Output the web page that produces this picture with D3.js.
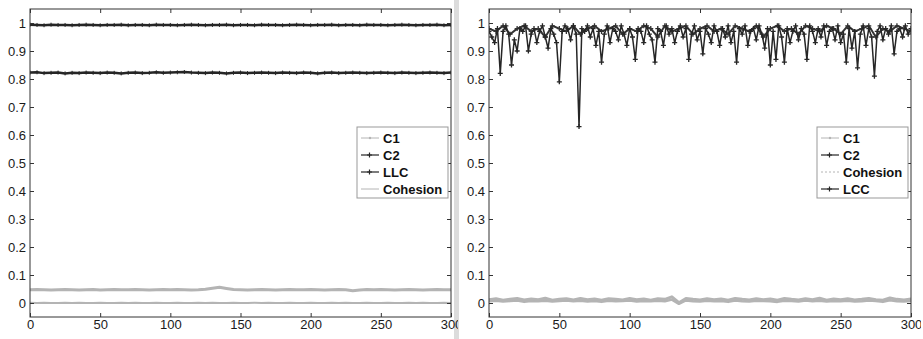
<!DOCTYPE html>
<html>
<head>
<meta charset="utf-8">
<script src="https://cdn.jsdelivr.net/npm/d3@7"></script>
<style>
  body { margin: 0; background: #fff; }
  svg { display: block; font-family: "Liberation Sans", Arial, sans-serif; }
</style>
</head>
<body>
<svg id="chart" width="923" height="339"></svg>
<script>
// x ticks / y ticks shared by both panels
const xTicks = [0, 50, 100, 150, 200, 250, 300];
const yTicks = [0, 0.1, 0.2, 0.3, 0.4, 0.5, 0.6, 0.7, 0.8, 0.9, 1];

// left panel, sampled every 5 steps
const leftLLC = [0.994,0.993,0.992,0.994,0.993,0.993,0.992,0.993,0.994,0.993,
  0.992,0.993,0.993,0.994,0.992,0.993,0.993,0.992,0.994,0.993,
  0.993,0.992,0.993,0.994,0.993,0.992,0.993,0.993,0.994,0.992,
  0.993,0.993,0.992,0.994,0.993,0.993,0.992,0.993,0.994,0.993,
  0.992,0.993,0.993,0.994,0.992,0.993,0.993,0.992,0.994,0.993,
  0.993,0.992,0.993,0.994,0.993,0.992,0.993,0.993,0.994,0.992,
  0.993];
const leftC2 = [0.823,0.824,0.821,0.822,0.823,0.820,0.822,0.821,0.823,0.822,
  0.821,0.823,0.822,0.820,0.822,0.823,0.821,0.822,0.824,0.822,
  0.823,0.824,0.825,0.823,0.822,0.821,0.823,0.822,0.820,0.822,
  0.823,0.821,0.822,0.823,0.822,0.821,0.823,0.822,0.821,0.823,
  0.822,0.820,0.822,0.823,0.821,0.822,0.823,0.822,0.821,0.822,
  0.823,0.822,0.821,0.823,0.822,0.821,0.822,0.823,0.822,0.821,
  0.823];
const leftC1 = [0.047,0.048,0.047,0.046,0.047,0.048,0.047,0.046,0.047,0.048,
  0.046,0.047,0.048,0.047,0.047,0.048,0.047,0.046,0.047,0.048,
  0.047,0.048,0.047,0.046,0.047,0.049,0.053,0.056,0.052,0.048,
  0.047,0.046,0.047,0.048,0.047,0.046,0.047,0.048,0.047,0.047,
  0.048,0.047,0.046,0.047,0.048,0.047,0.044,0.046,0.048,0.047,
  0.048,0.047,0.046,0.047,0.048,0.047,0.046,0.047,0.048,0.047,
  0.047];
const leftCohesion = [0.001,0.000,0.001,0.000,0.000,0.001,0.000,0.001,0.000,0.000,
  0.001,0.000,0.000,0.001,0.000,0.001,0.000,0.000,0.001,0.000,
  0.000,0.001,0.000,0.000,0.001,0.000,0.001,0.000,0.000,0.001,
  0.000,0.000,0.001,0.000,0.001,0.000,0.000,0.001,0.000,0.000,
  0.001,0.000,0.000,0.001,0.000,0.001,0.000,0.000,0.001,0.000,
  0.000,0.001,0.000,0.000,0.001,0.000,0.001,0.000,0.000,0.001,
  0.000];

// right panel
const rightC1 = [0.012,0.015,0.010,0.013,0.016,0.011,0.014,0.012,0.017,0.010,
  0.013,0.015,0.011,0.016,0.012,0.014,0.010,0.015,0.013,0.011,
  0.016,0.012,0.014,0.010,0.015,0.013,0.022,0.001,0.016,0.013,
  0.011,0.015,0.012,0.014,0.010,0.016,0.013,0.011,0.015,0.012,
  0.014,0.010,0.016,0.013,0.011,0.015,0.012,0.017,0.010,0.014,
  0.012,0.015,0.011,0.013,0.016,0.012,0.010,0.018,0.013,0.011,
  0.014];
const rightCohesion = [0.006,0.008,0.005,0.007,0.009,0.004,0.007,0.006,0.008,0.005,
  0.007,0.009,0.006,0.008,0.005,0.007,0.004,0.008,0.006,0.007,
  0.009,0.005,0.007,0.006,0.008,0.006,0.012,-0.003,0.009,0.006,
  0.005,0.008,0.006,0.007,0.004,0.009,0.006,0.005,0.008,0.007,
  0.006,0.004,0.008,0.007,0.005,0.009,0.006,0.008,0.005,0.007,
  0.006,0.008,0.005,0.006,0.009,0.007,0.004,0.010,0.006,0.005,
  0.007];
const rightC2 = [0.98,0.97,0.99,0.96,0.98,0.99,0.97,0.98,0.95,0.99,
  0.98,0.97,0.99,0.96,0.98,0.99,0.97,0.98,0.99,0.96,
  0.98,0.97,0.99,0.98,0.95,0.99,0.97,0.98,0.99,0.96,
  0.98,0.99,0.97,0.98,0.96,0.99,0.98,0.97,0.99,0.95,
  0.98,0.99,0.97,0.98,0.96,0.99,0.98,0.97,0.99,0.98,
  0.96,0.99,0.97,0.98,0.99,0.95,0.98,0.97,0.99,0.98,
  0.97];
// sampled every 2 steps
const rightLCC = [0.97,0.95,0.93,0.98,0.82,0.97,0.99,0.96,0.85,0.94,
  0.90,0.98,0.97,0.99,0.90,0.96,0.98,0.93,0.97,0.99,
  0.95,0.91,0.98,0.96,0.93,0.79,0.97,0.99,0.98,0.94,
  0.99,0.96,0.63,0.98,0.97,0.99,0.95,0.98,0.92,0.97,
  0.86,0.96,0.99,0.93,0.98,0.97,0.94,0.99,0.96,0.92,
  0.98,0.95,0.87,0.98,0.97,0.93,0.99,0.96,0.94,0.86,
  0.98,0.97,0.92,0.99,0.96,0.98,0.93,0.97,0.99,0.95,
  0.98,0.87,0.96,0.99,0.94,0.97,0.89,0.98,0.96,0.93,
  0.99,0.97,0.92,0.98,0.95,0.99,0.93,0.97,0.86,0.98,
  0.96,0.99,0.92,0.97,0.98,0.94,0.99,0.96,0.91,0.98,
  0.85,0.97,0.87,0.99,0.95,0.86,0.98,0.93,0.97,0.99,
  0.94,0.98,0.96,0.87,0.99,0.97,0.93,0.98,0.95,0.99,
  0.92,0.97,0.98,0.94,0.99,0.93,0.96,0.86,0.98,0.91,
  0.97,0.84,0.96,0.99,0.92,0.98,0.95,0.81,0.97,0.99,
  0.94,0.98,0.96,0.99,0.89,0.97,0.98,0.95,0.99,0.96,
  0.98];

const dark = '#262626';
const light = '#b4b4b4';

const svg = d3.select('#chart');

function drawPanel(p) {
  const x = d3.scaleLinear().domain([0, 300]).range([p.left, p.right]);
  const y = d3.scaleLinear().domain([-0.05, 1.05]).range([317, 9]);

  svg.append('clipPath').attr('id', 'clip' + p.id)
    .append('rect').attr('x', p.left - 40).attr('y', 0)
    .attr('width', p.clipRight - p.left + 40).attr('height', 339);
  const g = svg.append('g').attr('clip-path', `url(#clip${p.id})`);

  // series
  const plotClip = 'plot' + p.id;
  svg.append('clipPath').attr('id', plotClip)
    .append('rect').attr('x', p.left).attr('y', 9)
    .attr('width', p.right - p.left).attr('height', 308);
  const plot = g.append('g').attr('clip-path', `url(#${plotClip})`);

  p.series.forEach(s => {
    const step = 300 / (s.values.length - 1);
    const pts = s.values.map((v, i) => [i * step, v]);
    const line = d3.line().x(d => x(d[0])).y(d => y(d[1]));
    plot.append('path')
      .attr('d', line(pts))
      .attr('fill', 'none')
      .attr('stroke', s.color)
      .attr('stroke-width', s.width)
      .attr('stroke-linejoin', 'round');
    if (s.marker === '+') {
      const m = s.msize || 2;
      plot.selectAll(null).data(pts).enter().append('path')
        .attr('d', d => `M${x(d[0]) - m},${y(d[1])}h${2 * m}M${x(d[0])},${y(d[1]) - m}v${2 * m}`)
        .attr('stroke', s.color).attr('stroke-width', s.mwidth || 1);
    }
  });

  // box
  g.append('rect')
    .attr('x', p.left).attr('y', 9)
    .attr('width', p.right - p.left).attr('height', 308)
    .attr('fill', 'none').attr('stroke', '#333').attr('stroke-width', 1);

  const style = sel => {
    sel.select('.domain').remove();
    sel.selectAll('line').attr('stroke', '#333');
    sel.selectAll('text').attr('fill', '#1a1a1a').style('font-size', '13px');
  };

  g.append('g').attr('transform', `translate(${p.left},0)`)
    .call(d3.axisLeft(y).tickValues(yTicks).tickFormat(d3.format('~g'))
      .tickSizeInner(-4).tickSizeOuter(0).tickPadding(4))
    .call(style);
  g.append('g').attr('transform', `translate(${p.right},0)`)
    .call(d3.axisRight(y).tickValues(yTicks).tickFormat('')
      .tickSizeInner(-4).tickSizeOuter(0))
    .call(style);
  g.append('g').attr('transform', `translate(0,317)`)
    .call(d3.axisBottom(x).tickValues(xTicks).tickFormat(d3.format('d'))
      .tickSizeInner(-4).tickSizeOuter(0).tickPadding(3))
    .call(style);
  g.append('g').attr('transform', `translate(0,9)`)
    .call(d3.axisTop(x).tickValues(xTicks).tickFormat('')
      .tickSizeInner(-4).tickSizeOuter(0))
    .call(style);

  // legend
  const lg = g.append('g').attr('transform', `translate(${p.legendX},127)`);
  lg.append('rect').attr('width', 91).attr('height', 71)
    .attr('fill', '#fff').attr('stroke', '#999');
  p.legend.forEach((s, i) => {
    const ly = 11 + i * 17;
    lg.append('line').attr('x1', 4).attr('x2', 22).attr('y1', ly).attr('y2', ly)
      .attr('stroke', s.color).attr('stroke-width', s.color === dark ? 1.2 : 1)
      .attr('stroke-dasharray', s.dash || null);
    if (s.marker === '+') {
      lg.append('path').attr('d', `M10,${ly}h5M12.5,${ly - 2.5}v5`)
        .attr('stroke', s.color).attr('stroke-width', 1.2);
    } else if (s.marker === '.') {
      lg.append('circle').attr('cx', 13).attr('cy', ly).attr('r', 1.2).attr('fill', s.color);
    }
    lg.append('text').attr('x', 26).attr('y', ly + 5)
      .attr('fill', '#111').style('font-size', '13px').style('font-weight', 'bold')
      .text(s.name);
  });
}

// gray strip between the two panels
svg.append('rect').attr('x', 454).attr('y', 0).attr('width', 5).attr('height', 339).attr('fill', '#dcdcdc');

drawPanel({
  id: 'L', left: 30, right: 451, clipRight: 458, legendX: 357,
  series: [
    { values: leftCohesion, color: light, width: 2 },
    { values: leftC1, color: light, width: 3 },
    { values: leftC2, color: dark, width: 2.5, marker: '+' },
    { values: leftLLC, color: dark, width: 2.5, marker: '+' }
  ],
  legend: [
    { name: 'C1', color: light, marker: '.' },
    { name: 'C2', color: dark, marker: '+' },
    { name: 'LLC', color: dark, marker: '+' },
    { name: 'Cohesion', color: light }
  ]
});

drawPanel({
  id: 'R', left: 489, right: 911, clipRight: 921, legendX: 817,
  series: [
    { values: rightCohesion, color: light, width: 2.5 },
    { values: rightC1, color: light, width: 3 },
    { values: rightC2, color: '#333', width: 2, marker: '+', msize: 2.5, mwidth: 1.3 },
    { values: rightLCC, color: dark, width: 1.5, marker: '+', msize: 2.5, mwidth: 1.3 }
  ],
  legend: [
    { name: 'C1', color: light, marker: '.' },
    { name: 'C2', color: dark, marker: '+' },
    { name: 'Cohesion', color: light, dash: '2,2' },
    { name: 'LCC', color: dark, marker: '+' }
  ]
});
</script>
</body>
</html>
